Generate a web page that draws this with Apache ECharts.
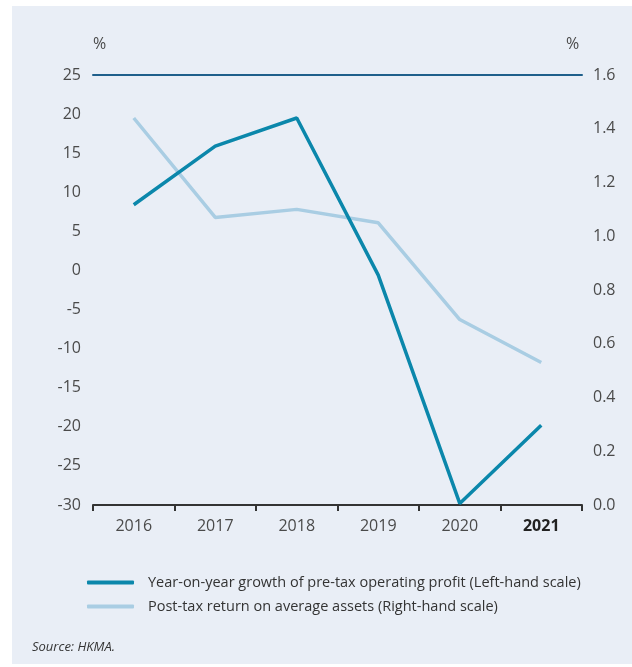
<!DOCTYPE html>
<html>
<head>
<meta charset="utf-8">
<script src="https://cdn.jsdelivr.net/npm/echarts@6/dist/echarts.min.js"></script>
<style>
  html, body { margin: 0; padding: 0; background: #ffffff; }
  #chart { width: 632px; height: 667px; }
</style>
</head>
<body>
<div id="chart"></div>
<script>
// Banking sector profitability, 2016-2021
const years = ['2016', '2017', '2018', '2019', '2020', '2021'];
const profitGrowth = [8.4, 15.9, 19.5, -0.6, -29.8, -19.8];   // % yoy, left scale
const returnOnAssets = [1.44, 1.07, 1.10, 1.05, 0.69, 0.53];   // %, right scale
const leftTicks = { min: -30, max: 25, interval: 5 };
const rightTicks = { min: 0, max: 1.6, interval: 0.2 };
const seriesNames = [
  'Year-on-year growth of pre-tax operating profit (Left-hand scale)',
  'Post-tax return on average assets (Right-hand scale)'
];

const font = "'Open Sans', 'Noto Sans', sans-serif";
const labelColor = '#4a4a4a';

const chart = echarts.init(document.getElementById('chart'), null, { renderer: 'canvas' });

chart.setOption({
  backgroundColor: '#ffffff',
  animation: false,
  graphic: [
    {
      type: 'rect', left: 12, top: 6, z: -10,
      shape: { width: 620, height: 658 },
      style: { fill: '#e9eef6' }
    },
    {
      type: 'text', left: 93, top: 36,
      style: { text: '%', font: "16px " + font, fill: labelColor }
    },
    {
      type: 'text', left: 566, top: 36,
      style: { text: '%', font: "16px " + font, fill: labelColor }
    },
    {
      type: 'text', left: 32, top: 641,
      style: { text: 'Source: HKMA.', font: "italic 13px " + font, fill: '#333333' }
    }
  ],
  grid: { left: 93, right: 50, top: 75, bottom: 162, containLabel: false },
  legend: {
    orient: 'vertical',
    left: 82, top: 570,
    itemWidth: 47, itemHeight: 4,
    itemGap: 9,
    icon: 'roundRect',
    textStyle: { fontFamily: font, fontSize: 14.5, color: '#333333', padding: [0, 0, 0, 9] },
    data: seriesNames
  },
  xAxis: [
    {
      type: 'category',
      data: years,
      position: 'bottom',
      boundaryGap: true,
      axisLine: { onZero: false, lineStyle: { color: '#333333', width: 2 } },
      axisTick: { show: true, length: 6, inside: false, lineStyle: { color: '#333333', width: 2 }, interval: 0 },
      axisLabel: {
        interval: 0,
        fontFamily: font, fontSize: 16, color: labelColor, margin: 13,
        formatter: function (v) { return v === '2021' ? '{b|' + v + '}' : v; },
        rich: { b: { fontFamily: font, fontSize: 16, fontWeight: 'bold', color: '#222222' } }
      },
      splitLine: { show: false }
    },
    {
      type: 'category',
      data: years,
      position: 'top',
      axisLine: { onZero: false, lineStyle: { color: '#1f5f8b', width: 2 } },
      axisTick: { show: false },
      axisLabel: { show: false },
      splitLine: { show: false }
    }
  ],
  yAxis: [
    {
      type: 'value',
      position: 'left',
      min: leftTicks.min, max: leftTicks.max, interval: leftTicks.interval,
      axisLine: { show: false },
      axisTick: { show: false },
      splitLine: { show: false },
      axisLabel: { fontFamily: font, fontSize: 16, color: labelColor, margin: 12 }
    },
    {
      type: 'value',
      position: 'right',
      min: rightTicks.min, max: rightTicks.max, interval: rightTicks.interval,
      axisLine: { show: false },
      axisTick: { show: false },
      splitLine: { show: false },
      axisLabel: {
        fontFamily: font, fontSize: 16, color: labelColor, margin: 11,
        formatter: function (v) { return v.toFixed(1); }
      }
    }
  ],
  series: [
    {
      name: seriesNames[0],
      type: 'line',
      data: profitGrowth,
      xAxisIndex: 0,
      yAxisIndex: 0,
      symbol: 'none',
      z: 3,
      lineStyle: { color: '#0b87ab', width: 3.5 },
      itemStyle: { color: '#0b87ab' }
    },
    {
      name: seriesNames[1],
      type: 'line',
      data: returnOnAssets,
      xAxisIndex: 0,
      yAxisIndex: 1,
      symbol: 'none',
      z: 2,
      lineStyle: { color: '#a9cde3', width: 3.5 },
      itemStyle: { color: '#a9cde3' }
    }
  ]
});
</script>
</body>
</html>
